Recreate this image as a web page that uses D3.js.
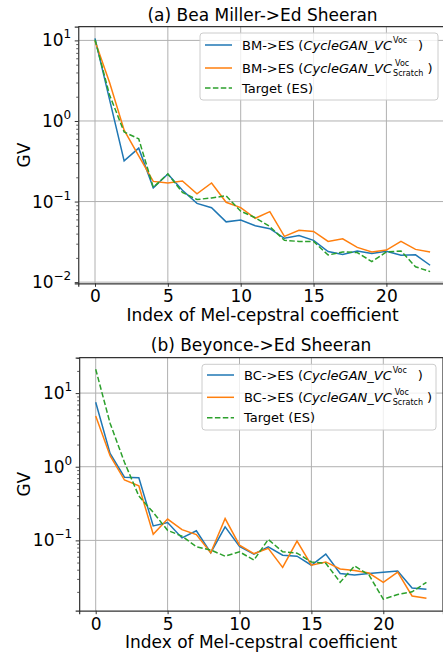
<!DOCTYPE html>
<html><head><meta charset="utf-8">
<script src="https://cdn.jsdelivr.net/npm/d3@7"></script>
<style>body{margin:0;background:#fff}svg{display:block;font-family:"DejaVu Sans",sans-serif}</style>
</head><body><svg id="c" width="443" height="652"></svg>
<script>
// ---- data ----
const coeffIndex = [0,1,2,3,4,5,6,7,8,9,10,11,12,13,14,15,16,17,18,19,20,21,22,23];
const xTickValues = [0,5,10,15,20];

const bmVoc     = [10.6,1.84,0.32,0.46,0.148,0.22,0.138,0.095,0.084,0.056,0.059,0.050,0.046,0.035,0.038,0.033,0.024,0.022,0.0244,0.0226,0.0242,0.0216,0.0218,0.0162];
const bmScratch = [9.8,3.0,0.77,0.37,0.178,0.17,0.18,0.125,0.17,0.098,0.084,0.062,0.075,0.037,0.044,0.0426,0.032,0.0345,0.027,0.0237,0.025,0.032,0.0255,0.0237];
const bmTarget  = [10.2,2.1,0.73,0.6,0.15,0.22,0.13,0.106,0.111,0.118,0.076,0.063,0.049,0.033,0.032,0.032,0.0217,0.0237,0.0233,0.018,0.0237,0.0244,0.0155,0.0135];

const bcVoc     = [7.5,1.52,0.72,0.71,0.157,0.175,0.108,0.135,0.068,0.153,0.083,0.065,0.082,0.063,0.061,0.046,0.065,0.0355,0.034,0.0355,0.037,0.0385,0.0226,0.0217];
const bcScratch = [4.9,1.41,0.66,0.55,0.121,0.195,0.14,0.12,0.068,0.198,0.086,0.066,0.078,0.043,0.098,0.046,0.051,0.041,0.039,0.036,0.027,0.037,0.0176,0.0164];
const bcTarget  = [21.1,3.9,1.15,0.40,0.24,0.137,0.114,0.082,0.074,0.061,0.070,0.054,0.103,0.070,0.067,0.051,0.049,0.027,0.045,0.034,0.0159,0.0184,0.020,0.027];

const colors = {voc:"#1f77b4", scratch:"#ff7f0e", target:"#2ca02c"};

const svg = d3.select("#c");
const FS = 17;
const LFS = 13;

function panel(cfg){
  const g = svg.append("g");
  const x = d3.scaleLinear().domain([-1.15, 24.15])
    .range([cfg.x0 - 1.15*cfg.dx, cfg.x0 + 24.15*cfg.dx]);
  const all = cfg.series.flatMap(s => s.values);
  const lmin = Math.log10(d3.min(all)), lmax = Math.log10(d3.max(all));
  const m = 0.05*(lmax - lmin);
  const y = d3.scaleLog().domain([10**(lmin-m), 10**(lmax+m)]).range([cfg.bottom, cfg.top]);
  const [xl, xr] = x.range();
  const [yb, yt] = y.range();
  const dom = y.domain();
  const majors = [], minors = [];
  for (let e = Math.floor(Math.log10(dom[0])); e <= Math.ceil(Math.log10(dom[1])); e++) {
    const v = 10**e;
    if (v >= dom[0] && v <= dom[1]) majors.push(v);
    for (let k = 2; k <= 9; k++) { const mv = k*v; if (mv >= dom[0] && mv <= dom[1]) minors.push(mv); }
  }
  // grid
  g.append("g").selectAll("line").data(xTickValues).join("line")
    .attr("x1", d => x(d)).attr("x2", d => x(d)).attr("y1", yt).attr("y2", yb)
    .attr("stroke", "#b0b0b0").attr("stroke-width", 1);
  g.append("g").selectAll("line").data(majors).join("line")
    .attr("x1", xl).attr("x2", xr).attr("y1", d => y(d)).attr("y2", d => y(d))
    .attr("stroke", "#b0b0b0").attr("stroke-width", 1);

  // series
  const clipId = "clip" + cfg.id;
  g.append("clipPath").attr("id", clipId).append("rect")
    .attr("x", xl).attr("y", yt).attr("width", xr - xl).attr("height", yb - yt);
  const line = d3.line().x((d,i) => x(coeffIndex[i])).y(d => y(d));
  cfg.series.forEach(s => {
    g.append("path").attr("d", line(s.values)).attr("fill", "none")
      .attr("stroke", s.color).attr("stroke-width", 1.5)
      .attr("stroke-dasharray", s.dash ? "5.5,2.4" : null)
      .attr("clip-path", `url(#${clipId})`);
  });

  // axes
  const xAxis = d3.axisBottom(x).tickValues(xTickValues).tickSize(3.5).tickPadding(3.5);
  const gx = g.append("g").attr("transform", `translate(0,${yb})`).call(xAxis);
  gx.select(".domain").attr("stroke", "#333").attr("stroke-width", 1.2);
  gx.selectAll(".tick line").attr("stroke", "#333");
  gx.selectAll(".tick text").attr("font-size", FS).attr("fill", "#000")
    .attr("font-family", '"DejaVu Sans",sans-serif');

  const yAxis = d3.axisLeft(y).tickValues(majors).tickSize(3.5).tickPadding(3.5);
  const gy = g.append("g").attr("transform", `translate(${xl},0)`).call(yAxis);
  gy.select(".domain").attr("stroke", "#333").attr("stroke-width", 1.2);
  gy.selectAll(".tick line").attr("stroke", "#333");
  gy.selectAll(".tick text").attr("font-size", FS).attr("fill", "#000")
    .attr("font-family", '"DejaVu Sans",sans-serif')
    .each(function(d){
      const t = d3.select(this); t.text("");
      const e = Math.round(Math.log10(d));
      t.append("tspan").text("10");
      t.append("tspan").attr("font-size", 12).attr("dy", -8).text(e < 0 ? "\u2212" + (-e) : e);
    });
  const yMinor = d3.axisLeft(y).tickValues(minors).tickSize(2).tickFormat("");
  const gm = g.append("g").attr("transform", `translate(${xl},0)`).call(yMinor);
  gm.select(".domain").remove();
  gm.selectAll(".tick line").attr("stroke", "#333").attr("stroke-width", 0.8);

  // top/right spines
  g.append("line").attr("x1", xl).attr("x2", xr).attr("y1", yt).attr("y2", yt)
    .attr("stroke", "#333").attr("stroke-width", 1.2);
  g.append("line").attr("x1", xr).attr("x2", xr).attr("y1", yt).attr("y2", yb)
    .attr("stroke", "#333").attr("stroke-width", 1.2);

  // title & labels
  const cx = (xl + xr) / 2;
  g.append("text").attr("x", cx).attr("y", cfg.titleY).attr("text-anchor", "middle")
    .attr("font-size", FS).attr("fill", "#000").text(cfg.title);
  g.append("text").attr("x", cx).attr("y", cfg.xlabelY).attr("text-anchor", "middle")
    .attr("font-size", FS).attr("fill", "#000").text("Index of Mel-cepstral coefficient");
  g.append("text").attr("transform", `translate(30,${(yt+yb)/2}) rotate(-90)`)
    .attr("text-anchor", "middle").attr("font-size", FS).attr("fill", "#000").text("GV");

  // legend
  const L = cfg.legend;
  g.append("rect").attr("x", L.x).attr("y", L.y).attr("width", L.w).attr("height", L.h)
    .attr("rx", 3).attr("fill", "white").attr("fill-opacity", 0.8)
    .attr("stroke", "#cccccc").attr("stroke-width", 1);
  cfg.series.forEach((s, i) => {
    const cy = L.rows[i];
    g.append("line").attr("x1", L.x + 5).attr("x2", L.x + 32).attr("y1", cy).attr("y2", cy)
      .attr("stroke", s.color).attr("stroke-width", 1.5)
      .attr("stroke-dasharray", s.dash ? "5.5,2.4" : null);
    const tx = L.x + 42, by = cy + 4.6;
    if (s.kind === "target") {
      g.append("text").attr("x", tx).attr("y", by).attr("font-size", LFS).attr("fill", "#000").text(s.label);
    } else {
      const t = g.append("text").attr("x", tx).attr("y", by).attr("font-size", LFS).attr("fill", "#000");
      t.append("tspan").text(s.label + " (");
      t.append("tspan").attr("font-style", "italic").text("CycleGAN_VC");
      const w = t.node().getComputedTextLength();
      const sx = tx + w + 1;
      g.append("text").attr("x", sx + (s.kind === "scratch" ? 2 : 0)).attr("y", by - 6.5)
        .attr("font-size", 8).attr("fill", "#000").text("Voc");
      let endx;
      if (s.kind === "scratch") {
        const st = g.append("text").attr("x", sx).attr("y", by + 3.5)
          .attr("font-size", 8).attr("fill", "#000").text("Scratch");
        endx = sx + st.node().getComputedTextLength() + 4;
      } else {
        endx = sx + 25;
      }
      g.append("text").attr("x", endx).attr("y", by).attr("font-size", LFS).attr("fill", "#000").text(")");
    }
  });
}

panel({
  id: "a", x0: 95, dx: 14.57, top: 26.7, bottom: 283.3,
  title: "(a) Bea Miller->Ed Sheeran", titleY: 21, xlabelY: 321,
  series: [
    {values: bmVoc, color: colors.voc, kind: "voc", label: "BM->ES"},
    {values: bmScratch, color: colors.scratch, kind: "scratch", label: "BM->ES"},
    {values: bmTarget, color: colors.target, kind: "target", dash: true, label: "Target (ES)"}
  ],
  legend: {x: 200, y: 33, w: 238, h: 67, rows: [45, 68, 88]}
});

panel({
  id: "b", x0: 95.7, dx: 14.38, top: 357.7, bottom: 610.7,
  title: "(b) Beyonce->Ed Sheeran", titleY: 351, xlabelY: 648,
  series: [
    {values: bcVoc, color: colors.voc, kind: "voc", label: "BC->ES"},
    {values: bcScratch, color: colors.scratch, kind: "scratch", label: "BC->ES"},
    {values: bcTarget, color: colors.target, kind: "target", dash: true, label: "Target (ES)"}
  ],
  legend: {x: 202, y: 364.3, w: 234, h: 65.7, rows: [375, 397.3, 417.7]}
});
</script></body></html>
